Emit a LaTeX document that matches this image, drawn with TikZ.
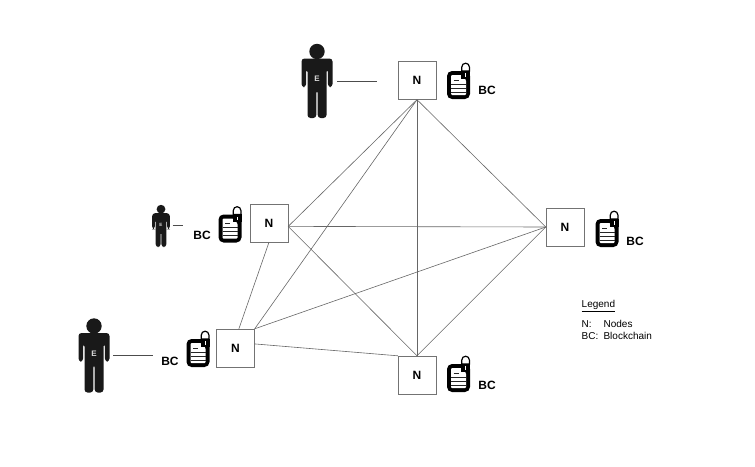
\documentclass[tikz,border=0pt]{standalone}
\usepackage{fontspec}
\setmainfont{Liberation Sans}
\usetikzlibrary{positioning}

\tikzset{
  nodebox/.style={draw=black!55,fill=white,minimum size=38pt,inner sep=0pt,font=\bfseries\fontsize{12}{14}\selectfont},
  link/.style={draw=black!60,line width=0.6pt},
  tie/.style={draw=black!70,line width=0.7pt},
  bclabel/.style={inner sep=0pt,font=\bfseries\fontsize{12}{14}\selectfont},
  legendtext/.style={inner sep=0pt,anchor=west,font=\fontsize{10}{12}\selectfont},
  % person, 74 high, origin at the middle of the figure
  person/.pic={
    \fill[black!90] (0,-29.5) circle (7.7);
    \fill[black!90,rounded corners=3] (-15.5,6) -- (-15.5,-22.5) -- (15.5,-22.5) -- (15.5,6)
      -- (10.9,6) -- (10.9,-12) -- (9.5,-12) -- (9.5,37) -- (.7,37) -- (.7,9) -- (-.7,9) -- (-.7,37) -- (-9.5,37)
      -- (-9.5,-12) -- (-10.9,-12) -- (-10.9,6) -- cycle;
    \node[text=black!15,inner sep=0pt,font=\bfseries\fontsize{8}{9}\selectfont] at (0,-2) {\tikzpictext};
  },
  % document and padlock, origin at the middle of the body
  bcdoc/.pic={
    \fill[black,rounded corners=5] (-11.5,-14) rectangle (11.5,14);
    \fill[white,rounded corners=1] (-7.5,-10) -- (3,-10) -- (7.5,-5) -- (7.5,10) -- (-7.5,10) -- cycle;
    \foreach \yy in {-1,3,7}
      \draw[black!85,line width=0.6pt] (-7.5,\yy) -- (7.5,\yy);
    \draw[black!85,line width=0.6pt] (-5,-5) -- (0,-5);
    \draw[black,line width=1.2pt,fill=white] (3.3,-14) -- (3.3,-18) arc (180:360:3.8) -- (10.9,-14) -- cycle;
    \fill[black] (2.8,-14.5) rectangle (11.5,-6.5);
    \fill[white] (6.5,-12) rectangle (7.8,-8.5);
  }
}

\begin{document}
\begin{tikzpicture}[x=1pt,y=-1pt]
\useasboundingbox (0,0) rectangle (755,466);

\node[nodebox] (top) at (417,80.5) {N};
\node[nodebox] (left) at (269,223) {N};
\node[nodebox] (low) at (235.5,348) {N};
\node[nodebox] (right) at (565,227) {N};
\node[nodebox] (bottom) at (417,375) {N};

\draw[link] (top.south) -- (left.-10);
\draw[link] (top.south) -- (low.north east);
\draw[link] (top.south) -- (bottom.north);
\draw[link] (top.south) -- (right.west);
\draw[link] (left.-10) -- (right.west);
\draw[link] (left.-10) -- (bottom.north);
\draw[link] (left.south) -- (low.80);
\draw[link] (low.north east) -- (right.west);
\draw[link] (low.12) -- (bottom.north west);
\draw[link] (bottom.north) -- (right.west);

% people
\pic[pic text=E] at (317,81) {person};
\pic[pic text=E] at (94,355.5) {person};
\pic[pic text=E,scale=.57,transform shape] at (161,226) {person};

\coordinate (handtop) at (337,81);
\coordinate (endtop) at (376.5,81);
\coordinate (handlow) at (113,355.5);
\coordinate (endlow) at (153,355.5);
\coordinate (handleft) at (172.5,225);
\coordinate (endleft) at (183,225);
\draw[tie] (handtop) -- (endtop);
\draw[tie] (handlow) -- (endlow);
\draw[tie] (handleft) -- (endleft);

% blockchain icons
\pic at (458.5,85) {bcdoc};
\pic at (230,228.5) {bcdoc};
\pic at (198,353) {bcdoc};
\pic at (607,233) {bcdoc};
\pic at (458.5,378) {bcdoc};

\node[bclabel] (bctop) at (487,90) {BC};
\node[bclabel] (bcleft) at (202,235) {BC};
\node[bclabel] (bclow) at (170,361) {BC};
\node[bclabel] (bcright) at (635,241) {BC};
\node[bclabel] (bcbottom) at (487,385) {BC};

% legend
\node[legendtext] (legend) at (581.5,306) {\underline{Legend}};
\node[legendtext] (legn) at (581.5,324) {N:};
\node[legendtext,right=11.5pt of legn] (legnodes) {Nodes};
\node[legendtext] (legbc) at (581.5,336) {BC:};
\node[legendtext,right=4.8pt of legbc] (legchain) {Blockchain};
\end{tikzpicture}
\end{document}
